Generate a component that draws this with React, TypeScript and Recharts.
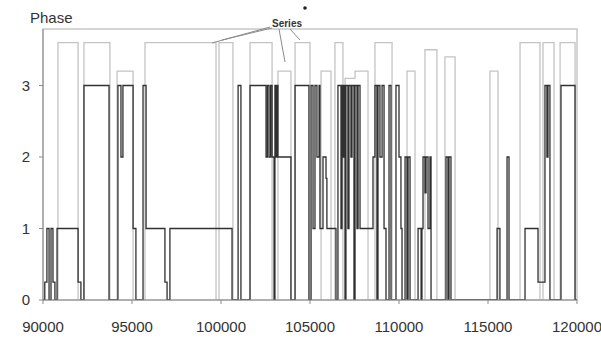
import React from 'react';
import { LineChart, Line, XAxis, YAxis, ReferenceArea } from 'recharts';

// x ticks / y ticks
const xTicks = [90000, 95000, 100000, 105000, 110000, 115000, 120000];
const yTicks = [0, 1, 2, 3];

// phase (dark step line): change points and the level held after each
const phaseX = [
  90000, 90100, 90220, 90340, 90450, 90560, 90670, 90790, 91970, 92130, 92300,
  93710, 94210, 94380, 94490, 95060, 95220, 95620, 95790, 96850, 96970, 97130,
  100620, 100960, 101120, 101630, 102530, 102610, 102700, 102790, 102870,
  102980, 103030, 103090, 103150, 103200, 103930, 104160, 104940,
  105060, 105170, 105280, 105390, 105510, 105560, 105730, 105900, 105950, 106460,
  106570, 106740, 106800, 106850, 106910, 106970, 107020, 107130, 107190, 107300,
  107360, 107470, 107530, 107640, 107700, 107810, 108540, 108650, 108760, 108820,
  108930, 109050, 109160, 109270, 109440, 109550, 109830, 110000, 110110, 110170,
  110340, 110450, 110510, 110620, 111070, 111240, 111290, 111350, 111460, 111520,
  111630, 111740, 111800, 112640, 112750, 112810, 112920, 115510, 115670, 116070,
  116180, 117080, 117810, 118200, 118310, 118370, 118480, 119100, 119890, 120000,
];
const phaseY = [
  0, 0.25, 1, 0, 1, 0.25, 0, 1, 0.25, 0, 3,
  0, 3, 2, 3, 1, 0, 3, 1, 0.25, 0, 1,
  0, 3, 0, 3, 2, 3, 2, 3, 2,
  0, 3, 2, 3, 2, 0, 3, 0,
  3, 1, 3, 2, 3, 1, 2, 1.7, 1, 0,
  3, 1, 3, 2, 3, 0, 3, 1, 3, 2,
  3, 0, 3, 1, 3, 1, 2, 3, 0, 3,
  2, 3, 1, 0, 3, 0, 3, 2, 1, 0,
  2, 0, 2, 0, 1, 0, 1, 2, 1.5, 2,
  1, 2, 0, 2, 0, 2, 0, 1, 0, 2,
  0, 1, 0.25, 3, 2, 3, 0, 3, 0, 0,
];

// "Series" (light step line)
const seriesX = [
  90000, 90840, 91970, 92300, 93760, 94160, 95060, 95730, 99720, 99890, 100670,
  101630, 102870, 103200, 103930, 104160, 105000, 105620, 106180, 106400, 106850,
  106970, 107530, 108260, 108650, 109610, 110450, 110900, 111460, 112130, 112580,
  113150, 115110, 115560, 116800, 117920, 118090, 118710, 119050, 119890, 120000,
];
const seriesY = [
  0, 3.6, 0, 3.6, 0, 3.2, 0, 3.6, 0, 3.6, 0,
  3.6, 0, 3.2, 0, 3.6, 0, 3.2, 0, 3.6, 0,
  3.1, 3.2, 0, 3.6, 0, 3.2, 0, 3.5, 0, 3.4,
  0, 3.2, 0, 3.6, 0, 3.6, 0, 3.6, 0, 0,
];

const phaseData = phaseX.map((x, i) => ({ x, y: phaseY[i] }));
const seriesData = seriesX.map((x, i) => ({ x, y: seriesY[i] }));

const font = '"Liberation Sans", Arial, sans-serif';

export default function App() {
  return (
    <div style={{ position: 'absolute', left: 0, top: 0, width: 601, height: 341, background: '#fff', fontFamily: font }}>
      <LineChart width={601} height={341} margin={{ top: 29, right: 24, bottom: 0, left: 0 }}>
        <XAxis
          type="number"
          dataKey="x"
          domain={[90000, 120000]}
          ticks={xTicks}
          allowDataOverflow
          height={41}
          tickSize={4}
          tickMargin={17}
          stroke="#8a8a8a"
          tick={{ fill: '#333', fontSize: 15, fontFamily: font }}
        />
        <YAxis
          type="number"
          dataKey="y"
          domain={[0, 3.79]}
          ticks={yTicks}
          allowDataOverflow
          width={43}
          tickSize={4}
          tickMargin={9}
          stroke="#8a8a8a"
          tick={{ fill: '#333', fontSize: 15, fontFamily: font }}
        />
        <ReferenceArea x1={90000} x2={120000} y1={0} y2={3.79} fill="none" stroke="#c8c8c8" strokeWidth={1.5} />
        <Line
          data={seriesData}
          dataKey="y"
          type="stepAfter"
          stroke="#c4c4c4"
          strokeWidth={1.3}
          dot={false}
          isAnimationActive={false}
        />
        <Line
          data={phaseData}
          dataKey="y"
          type="stepAfter"
          stroke="#303030"
          strokeWidth={1.3}
          dot={false}
          isAnimationActive={false}
        />
      </LineChart>
      {/* annotation overlay */}
      <svg width={601} height={341} style={{ position: 'absolute', left: 0, top: 0, pointerEvents: 'none' }}>
        <text x={30} y={23} fontSize={15} fill="#333" fontFamily={font}>Phase</text>
        <text x={272} y={27} fontSize={10} fontWeight="bold" fill="#333" fontFamily={font}>Series</text>
        <circle cx={305} cy={8} r={1.8} fill="#222" />
        <g stroke="#8a8a8a" strokeWidth={1} fill="none">
          <line x1={270} y1={27} x2={212} y2={43} />
          <line x1={272} y1={28} x2={222} y2={40} />
          <line x1={279} y1={29} x2={285} y2={62} />
          <line x1={290} y1={29} x2={300} y2={40} />
        </g>
      </svg>
    </div>
  );
}
